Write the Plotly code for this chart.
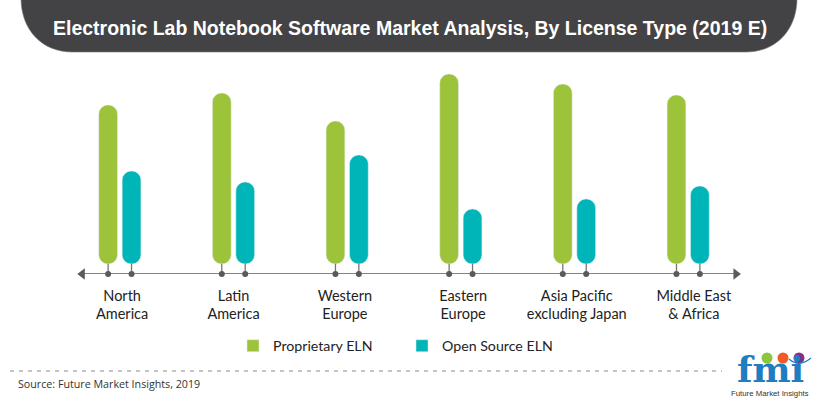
import plotly.graph_objects as go

W = 820
H = 400

regions = ['North<br>America', 'Latin<br>America', 'Western<br>Europe',
           'Eastern<br>Europe', 'Asia Pacific<br>excluding Japan', 'Middle East<br>& Africa']
proprietary = [159, 171, 143, 190, 180, 169]
open_source = [93, 82, 109, 55, 65, 78]
positions = [0, 1, 2, 3, 4, 5]

GREEN = '#9dc33b'
TEAL = '#00b5b8'
DARK = '#434345'
AXIS = '#5a5a5c'
BLUE = '#1f7dc1'
BAR_W = 0.165
SHIFT = 0.103
FLOOR = -10


def px(x):
    return x / W


def py(y):
    return 1 - y / H


def add_bars(fig, name, values, x, color):
    # giving a base makes plotly round both ends of the bar
    fig.add_trace(go.Bar(x=x, y=values, base=[0] * len(x), width=BAR_W,
                         showlegend=False, marker=dict(color=color, cornerradius=9)))
    # stem and dot on the axis
    fig.add_trace(go.Scatter(x=x, y=[FLOOR] * len(x), mode='markers', showlegend=False,
                             marker=dict(color=AXIS, size=6), cliponaxis=False,
                             error_y=dict(type='data', array=[-FLOOR] * len(x), arrayminus=[0] * len(x),
                                          color='#77777a', thickness=1.3, width=0)))
    # square legend swatch
    fig.add_trace(go.Bar(x=[None], y=[None], name=name, marker=dict(color=color)))


fig = go.Figure()
add_bars(fig, 'Proprietary ELN', proprietary, [p - SHIFT for p in positions], GREEN)
add_bars(fig, 'Open Source ELN', open_source, [p + SHIFT for p in positions], TEAL)

# axis arrow heads
fig.add_trace(go.Scatter(x=[-0.33, 5.42], y=[FLOOR, FLOOR], mode='markers', showlegend=False,
                         hoverinfo='skip', cliponaxis=False,
                         marker=dict(color=AXIS, size=10, symbol=['triangle-left', 'triangle-right'])))

shapes = [
    # title band
    dict(type='path', xref='paper', yref='paper', fillcolor=DARK,
         line=dict(color='#77777a', width=0.6),
         path=f'M {px(21)} {py(-2)} C {px(21)} {py(30)} {px(42)} {py(52)} {px(72)} {py(52)} '
              f'L {px(746)} {py(52)} C {px(776)} {py(52)} {px(797)} {py(30)} {px(797)} {py(-2)} Z'),
    # axis line
    dict(type='line', xref='x', yref='y', x0=-0.33, x1=5.42, y0=FLOOR, y1=FLOOR, layer='below',
         line=dict(color=AXIS, width=1.3)),
    # source separator
    dict(type='line', xref='paper', yref='paper', x0=px(10), x1=px(722), y0=py(371), y1=py(371),
         line=dict(color='#8a8a8a', width=1, dash='4px 5px')),
]

# logo badges
for cx, color in [(767, '#8cc63f'), (783, '#ef5a28'), (799, '#8e2a8b')]:
    shapes.append(dict(type='circle', xref='paper', yref='paper', fillcolor=color, line=dict(width=0),
                       x0=px(cx - 5.5), x1=px(cx + 5.5), y0=py(352.5), y1=py(363.5)))
# logo arc
shapes.append(dict(type='path', xref='paper', yref='paper', line=dict(color=BLUE, width=1.2),
                   path=f'M {px(789)} {py(359)} Q {px(799)} {py(368)} {px(811)} {py(358)}'))

annotations = [
    dict(text='<b>Electronic Lab Notebook Software Market Analysis, By License Type (2019 E)</b>',
         xref='paper', yref='paper', x=px(410), y=py(28), showarrow=False, xanchor='center', yanchor='middle',
         font=dict(family='Liberation Sans', size=19.5, color='white')),
    dict(text='Source: Future Market Insights, 2019', xref='paper', yref='paper', x=px(16), y=py(384),
         showarrow=False, xanchor='left', yanchor='middle',
         font=dict(family='Open Sans', size=10.7, color='#333333')),
    dict(text='<b>fmi</b>', xref='paper', yref='paper', x=px(770), y=py(369), showarrow=False,
         xanchor='center', yanchor='middle', height=30, valign='middle',
         font=dict(family='DejaVu Serif', size=36, color=BLUE)),
    dict(text='Future Market Insights', xref='paper', yref='paper', x=px(770), y=py(393), showarrow=False,
         xanchor='center', yanchor='middle', height=10,
         font=dict(family='Liberation Sans', size=7.8, color='#333333')),
]

fig.update_layout(
    width=W, height=H,
    margin=dict(l=0, r=0, t=0, b=0),
    paper_bgcolor='white', plot_bgcolor='white',
    barmode='overlay',
    font=dict(family='Lato', color='#2b2b2b'),
    xaxis=dict(domain=[px(63), px(745)], range=[-0.5, 5.5],
               tickvals=[0.02, 1, 1.98, 3.02, 4.02, 5.05], ticktext=regions,
               showgrid=False, zeroline=False, showline=False, ticks='', ticklen=0,
               ticklabelstandoff=11, tickangle=0, tickfont=dict(family='Lato', size=14.5, color='#222222')),
    yaxis=dict(domain=[py(274), py(64)], range=[FLOOR, 200], visible=False),
    legend=dict(orientation='h', xref='paper', yref='paper', x=px(402), y=py(346), xanchor='center',
                yanchor='middle', font=dict(family='Lato', size=14.2, color='#222222'),
                traceorder='normal', entrywidth=124, bgcolor='rgba(0,0,0,0)'),
    shapes=shapes,
    annotations=annotations,
)

# the page body has a default margin that would push the chart off the corner
fig.write_html('out.html', config={'displayModeBar': False},
               post_script="document.body.style.margin='0';")
